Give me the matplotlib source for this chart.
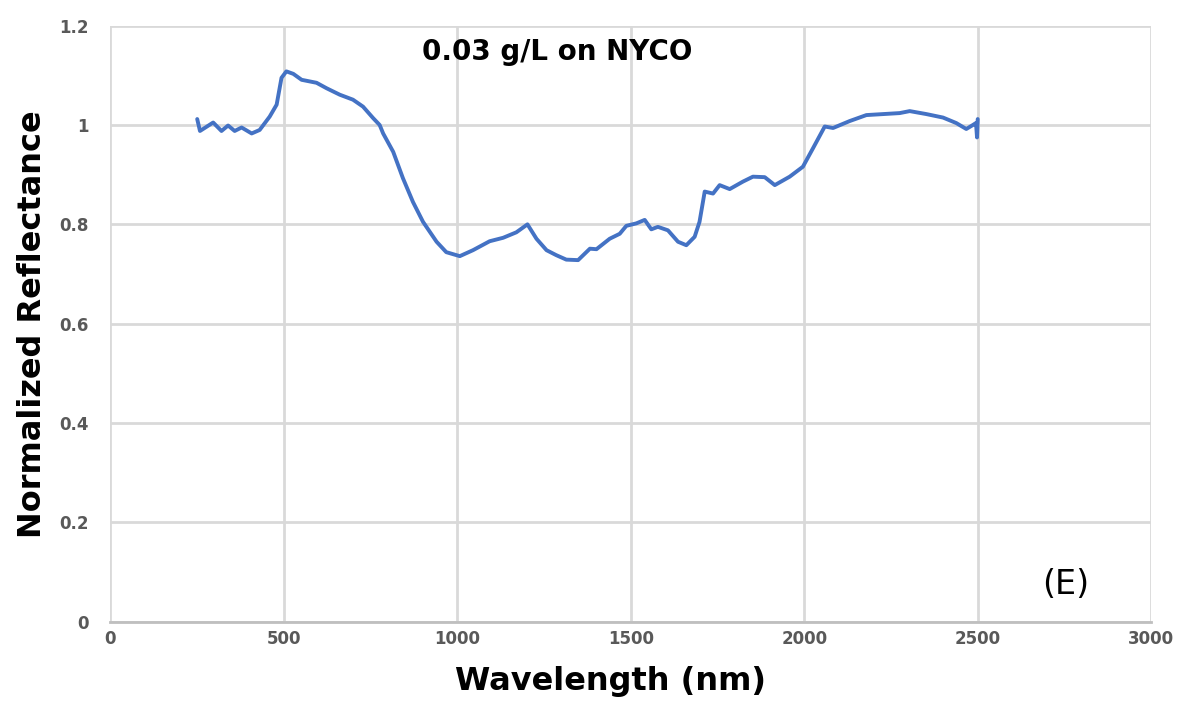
import matplotlib.pyplot as plt
import numpy as np

# spectrum
wavelength = [250, 258, 296, 320, 339, 358, 378, 407, 430, 459, 479, 493, 507, 527,
              551, 594, 623, 661, 699, 728, 757, 776, 786, 815, 843, 872, 901, 940,
              968, 1007, 1045, 1093, 1132, 1170, 1202, 1228, 1257, 1285, 1314, 1348,
              1382, 1401, 1439, 1468, 1487, 1516, 1540, 1559, 1578, 1607, 1636, 1660,
              1684, 1698, 1713, 1737, 1756, 1785, 1823, 1852, 1886, 1915, 1958, 1996,
              2025, 2059, 2083, 2131, 2179, 2227, 2275, 2304, 2352, 2400, 2438, 2467,
              2486, 2495, 2498, 2500]
reflectance = [1.012, 0.988, 1.005, 0.988, 0.999, 0.988, 0.995, 0.983, 0.990, 1.017,
               1.041, 1.095, 1.108, 1.103, 1.091, 1.085, 1.074, 1.061, 1.051, 1.037,
               1.014, 1.000, 0.983, 0.946, 0.893, 0.845, 0.805, 0.765, 0.744, 0.736,
               0.748, 0.766, 0.773, 0.784, 0.800, 0.771, 0.748, 0.738, 0.729, 0.728,
               0.751, 0.750, 0.771, 0.781, 0.797, 0.802, 0.809, 0.790, 0.795, 0.788,
               0.765, 0.758, 0.775, 0.805, 0.866, 0.862, 0.879, 0.871, 0.886, 0.896,
               0.895, 0.879, 0.896, 0.916, 0.953, 0.997, 0.994, 1.008, 1.020, 1.022,
               1.024, 1.028, 1.022, 1.015, 1.004, 0.992, 1.000, 1.004, 0.975, 1.012]

x_ticks = [0, 500, 1000, 1500, 2000, 2500, 3000]
y_ticks = [0, 0.2, 0.4, 0.6, 0.8, 1.0, 1.2]
y_labels = ["0", "0.2", "0.4", "0.6", "0.8", "1", "1.2"]

fig = plt.figure(figsize=(11.88, 7.13), dpi=100)
ax = fig.add_axes([0.093, 0.128, 0.876, 0.836])

ax.plot(wavelength, reflectance, color="#4472C4", linewidth=2.8, zorder=3,
        solid_joinstyle="round", solid_capstyle="round")

ax.set_xlim(0, 3000)
ax.set_ylim(0, 1.2)
ax.set_xticks(x_ticks)
ax.set_yticks(y_ticks)
ax.set_yticklabels(y_labels)
ax.grid(True, color="#d9d9d9", linewidth=2)
ax.set_axisbelow(True)
for s in ["top", "right", "left"]:
    ax.spines[s].set_visible(False)
ax.spines["bottom"].set_color("#bfbfbf")
ax.spines["bottom"].set_linewidth(2)
ax.tick_params(axis="both", length=0, labelcolor="#595959")
ax.tick_params(axis="y", pad=16)
ax.tick_params(axis="x", pad=6)
for lab in ax.get_xticklabels() + ax.get_yticklabels():
    lab.set_fontweight("bold")
    lab.set_fontsize(12)

ax.set_xlabel("Wavelength (nm)", fontsize=23, fontweight="bold")
ax.xaxis.set_label_coords(0.48, -0.075)
ax.set_ylabel("Normalized Reflectance", fontsize=23, fontweight="bold", labelpad=8)

ax.text(0.429, 0.955, "0.03 g/L on NYCO", transform=ax.transAxes, ha="center", va="center",
        fontsize=20, fontweight="bold")
ax.text(2755, 0.074, "(E)", ha="center", va="center", fontsize=24)

fig.savefig("out.png", dpi=100)
